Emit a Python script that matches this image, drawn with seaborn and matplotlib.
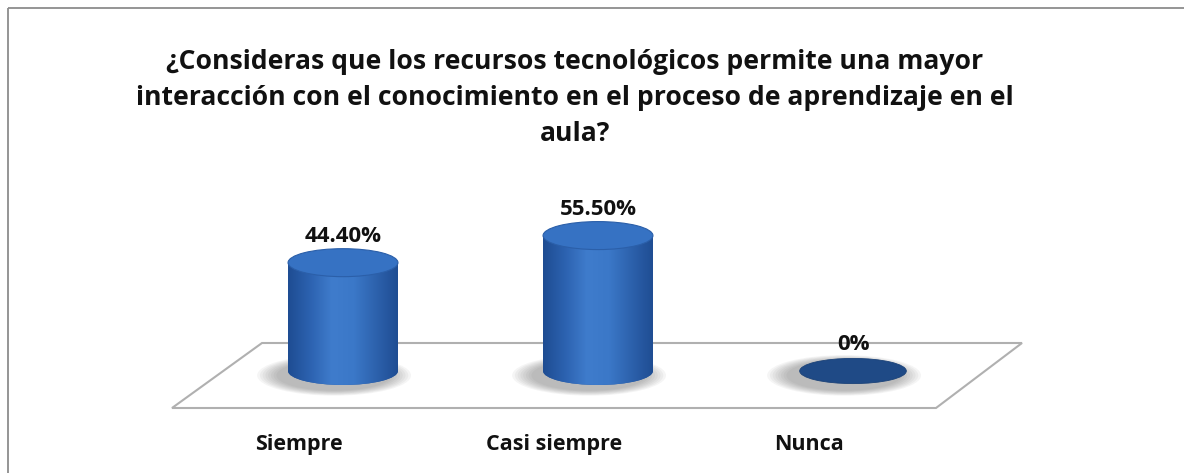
import numpy as np
import pandas as pd
import matplotlib
matplotlib.use("Agg")
import matplotlib.pyplot as plt
import seaborn as sns
from matplotlib.patches import Ellipse, Polygon
from matplotlib.colors import LinearSegmentedColormap

# ---------------- data ----------------
categories = ["Siempre", "Casi siempre", "Nunca"]
values = [44.4, 55.5, 0.0]
value_labels = ["44.40%", "55.50%", "0%"]
title_lines = [
    "¿Consideras que los recursos tecnológicos permite una mayor",
    "interacción con el conocimiento en el proceso de aprendizaje en el",
    "aula?",
]

# ---------------- style ----------------
sns.set_theme(style="white")
plt.rcParams["font.family"] = ["Open Sans", "DejaVu Sans"]

W, H = 1184, 473
fig = plt.figure(figsize=(W / 100, H / 100), dpi=100)
fig.patch.set_facecolor("white")

# background axes in pixel coordinates (frame + floor)
bg = fig.add_axes([0, 0, 1, 1], zorder=0)
bg.set_xlim(0, W)
bg.set_ylim(H, 0)
bg.axis("off")
bg.plot([8, 8], [H, 8], color="#8c8c8c", lw=1.3, solid_capstyle="butt")
bg.plot([8, W], [8, 8], color="#8c8c8c", lw=1.3, solid_capstyle="butt")
floor = Polygon([(172, 408), (262, 343), (1022, 343), (936, 408)], closed=True,
                facecolor="white", edgecolor="#b0b0b0", lw=1.5)
bg.add_patch(floor)

# data axes
px_per_unit = 2.44
base_from_bottom = H - 371
y_lo, y_hi = -30, 90
ax_bottom = base_from_bottom + y_lo * px_per_unit
ax_height = (y_hi - y_lo) * px_per_unit
x_lo, x_hi = -1.0, 3.0
ax = fig.add_axes([88 / W, ax_bottom / H, 1020 / W, ax_height / H], zorder=1)
ax.patch.set_alpha(0)

df = pd.DataFrame({"cat": categories, "val": values})
bar_w = 0.431
sns.barplot(data=df, x="cat", y="val", ax=ax, width=bar_w, color="#3470c0",
            saturation=1, edgecolor="none")

ell_h = 28 / px_per_unit
cyl = LinearSegmentedColormap.from_list(
    "cyl", ["#1e4c92", "#2c62b0", "#3f7ccc", "#3b78c8", "#2d62ad", "#1f4d93"])
grad = np.linspace(0, 1, 256).reshape(1, -1)

for i, (p, v) in enumerate(zip(ax.patches, values)):
    cx = p.get_x() + p.get_width() / 2
    w = p.get_width()
    # soft shadow at base
    for k in range(8):
        s = 1.4 - k * 0.05
        ax.add_patch(Ellipse((cx - 0.035, -1.8), w * s, ell_h * (s + 0.05),
                             facecolor="#555555", edgecolor="none", alpha=0.06, zorder=1))
    if v > 0:
        p.set_zorder(2.5)
        be = Ellipse((cx, 0), w, ell_h, facecolor="#2a5ea8", edgecolor="none", zorder=2)
        ax.add_patch(be)
        im = ax.imshow(grad, cmap=cyl, aspect="auto", extent=[cx - w / 2, cx + w / 2, -ell_h, 0],
                       zorder=2.1, interpolation="bilinear")
        im.set_clip_path(be)
        im2 = ax.imshow(grad, cmap=cyl, aspect="auto", extent=[cx - w / 2, cx + w / 2, 0, v],
                        zorder=2.6, interpolation="bilinear")
        im2.set_clip_path(p)
        top = Ellipse((cx, v), w, ell_h, facecolor="#3672c3", edgecolor="#2b5fa9",
                      lw=0.8, zorder=3)
    else:
        top = Ellipse((cx, v), w * 0.97, ell_h * 0.9, facecolor="#1f4a86",
                      edgecolor="#1b4278", lw=0.6, zorder=3)
    ax.add_patch(top)
    ax.annotate(value_labels[i], xy=(cx, v), xytext=(0, 21), textcoords="offset pixels",
                ha="center", va="baseline", fontsize=16, fontweight="bold",
                color="#111111", zorder=5)
    ax.annotate(categories[i], xy=(cx, 0), xytext=(-44, -79), textcoords="offset pixels",
                ha="center", va="baseline", fontsize=15.5, fontweight="bold",
                color="#111111", annotation_clip=False)

ax.set_xlim(x_lo, x_hi)
ax.set_ylim(y_lo, y_hi)
ax.set_xlabel("")
ax.set_ylabel("")
ax.set_xticks([])
ax.set_yticks([])
for sp in ax.spines.values():
    sp.set_visible(False)

for j, line in enumerate(title_lines):
    fig.text(575 / W, 1 - (69 + 36 * j) / H, line, ha="center", va="baseline",
             fontsize=19.1, fontweight="bold", color="#111111")

fig.savefig("out.png", dpi=100)
